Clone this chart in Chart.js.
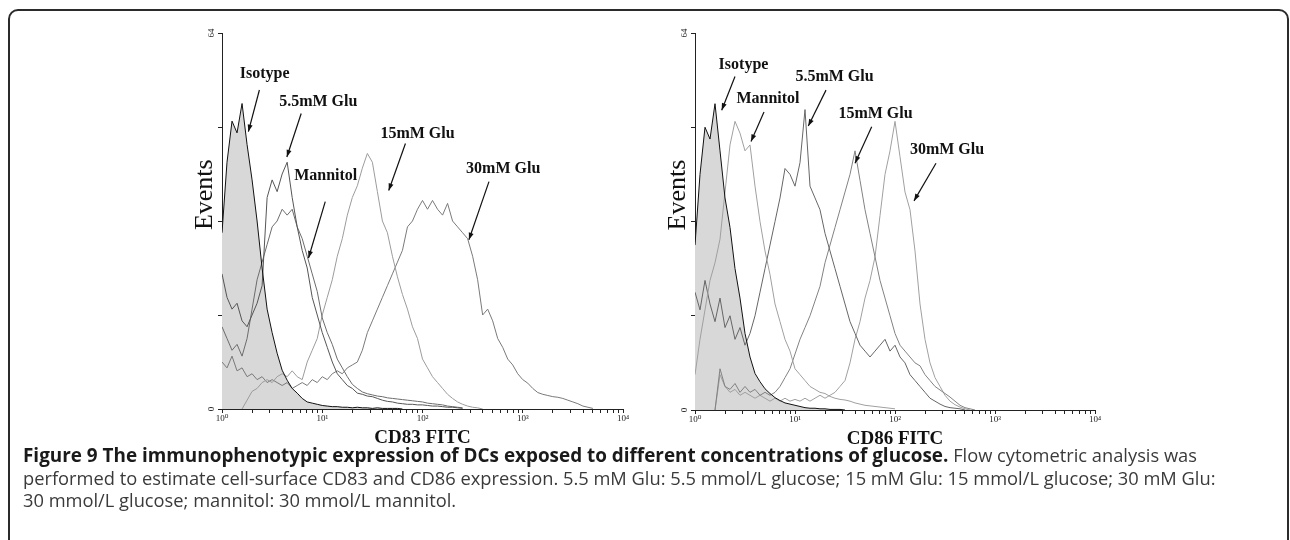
<!DOCTYPE html>
<html lang="en">
<head>
<meta charset="UTF-8">
<title>Figure 9 - CD83 / CD86 FITC histograms</title>
<script src="https://cdn.jsdelivr.net/npm/chart.js"></script>
<style>
  html, body { margin: 0; padding: 0; background: #fff; }
  body { width: 1290px; height: 540px; position: relative; overflow: hidden; }
  .frame { position: absolute; left: 8px; top: 9px; width: 1281px; height: 620px;
           border: 2px solid #2b2b2b; border-radius: 10px; box-sizing: border-box; }
  .panel { position: absolute; top: 0; }
  .caption { position: absolute; left: 23px; top: 444px; white-space: nowrap;
             font-family: "Open Sans", sans-serif; font-size: 18.3px; line-height: 22.5px; color: #3a3a3a; }
  .caption b { color: #1a1a1a; font-size: 18.9px; }
</style>
</head>
<body>
<div class="frame"></div>
<div class="panel" style="left:190px"><canvas id="cd83" width="448" height="455"></canvas></div>
<div class="panel" style="left:663px"><canvas id="cd86" width="447" height="456"></canvas></div>
<div class="caption"><b>Figure 9 The immunophenotypic expression of DCs exposed to different concentrations of glucose.</b> Flow cytometric analysis was<br>performed to estimate cell-surface CD83 and CD86 expression. 5.5 mM Glu: 5.5 mmol/L glucose; 15 mM Glu: 15 mmol/L glucose; 30 mM Glu:<br>30 mmol/L glucose; mannitol: 30 mmol/L mannitol.</div>

<script>
// channel positions (log10 of FITC intensity), one per histogram bin
const logPos = [0.00, 0.05, 0.10, 0.15, 0.20, 0.25, 0.30, 0.35, 0.40, 0.45,
                0.50, 0.55, 0.60, 0.65, 0.70, 0.75, 0.80, 0.85, 0.90, 0.95,
                1.00, 1.05, 1.10, 1.15, 1.20, 1.25, 1.30, 1.35, 1.40, 1.45,
                1.50, 1.55, 1.60, 1.65, 1.70, 1.75, 1.80, 1.85, 1.90, 1.95,
                2.00, 2.05, 2.10, 2.15, 2.20, 2.25, 2.30, 2.35, 2.40, 2.45,
                2.50, 2.55, 2.60, 2.65, 2.70, 2.75, 2.80, 2.85, 2.90, 2.95,
                3.00, 3.05, 3.10, 3.15, 3.20, 3.25, 3.30, 3.35, 3.40, 3.45,
                3.50, 3.55, 3.60, 3.65, 3.70, 3.75];

// CD83 panel (events per bin)
const isotypeCD83 = [30, 42, 49, 47, 52, 45, 39, 32, 24, 17, 13, 9.5, 6.6, 4.9, 3.5, 2.7, 1.8, 1.2, 1.0, 0.8,
                     0.6, 0.5, 0.4, 0.4, 0.3, 0.3, 0.2, 0.3, 0.2, 0.2, 0.1, 0.2, 0.1, 0.1, 0.1, 0.1, 0];
const glu55CD83 = [23, 19, 17, 18, 15, 14, 16, 18, 21, 36, 39, 37, 40, 42, 36, 31, 27, 24, 19, 16,
                   13, 10.5, 8, 6, 5, 4, 3.5, 2.7, 2.5, 2.2, 2.1, 1.8, 1.5, 1.3, 1.2, 1.0, 0.9, 0.8, 0.8, 0.7,
                   0.7, 0.6, 0.5, 0.5, 0.4, 0.3, 0.3, 0.2, 0.1];
const mannitolCD83 = [14, 12, 10, 11, 9, 12, 17, 22, 25, 28, 31, 32, 34, 33, 34, 31, 29, 26, 23, 20,
                      15.5, 13, 11, 8.5, 7, 5.5, 4.2, 3.5, 2.9, 2.6, 2.4, 2.2, 2.1, 1.9, 1.8, 1.7, 1.6, 1.5, 1.4, 1.3,
                      1.2, 1.0, 0.9, 0.8, 0.7, 0.5, 0.4, 0.3, 0.2];
const glu15CD83 = [null, null, null, null, 0, 1.5, 3, 3.5, 4.5, 5, 4.5, 5.5, 6, 5.5, 6.5, 5.5, 5, 8, 10, 12,
                   16, 19, 22, 26, 29, 33, 36, 38, 41, 43.5, 42, 37, 32, 30, 26, 22.5, 19.5, 17, 14, 12,
                   8.5, 7, 5.5, 4.5, 3.5, 2.5, 1.8, 1.2, 0.8, 0.5, 0.3, 0.2, 0];
const glu30CD83 = [8, 7, 9, 6.5, 7, 5.5, 6, 5, 5.5, 4.5, 5, 4.5, 4, 4.5, 3.5, 4, 4.5, 4, 5, 4.5,
                   5.5, 5, 6, 6.5, 6, 7, 7.5, 8, 10, 13, 15, 17, 19, 21, 23, 25, 27, 31, 32, 34,
                   35.5, 34, 35.5, 34, 33, 35, 32, 31, 30, 29, 26, 22, 16, 17, 15, 12, 10.5, 8.5, 7.5, 6,
                   5, 4.4, 3.5, 2.8, 2.5, 2.3, 2.1, 2.0, 1.8, 1.5, 1.2, 0.9, 0.5, 0.3, 0.1];

// CD86 panel (events per bin)
const isotypeCD86 = [28, 40, 48, 46, 52, 44, 36, 31, 24, 19, 13, 9, 6.2, 4.8, 3.6, 2.8, 2.1, 1.6, 1.2, 1.0,
                     0.8, 0.6, 0.4, 0.3, 0.3, 0.2, 0.2, 0.1, 0.1, 0.1, 0];
const mannitolCD86 = [6, 12, 17, 22, 25, 29, 37, 45, 49, 47, 44, 45, 38, 32, 27, 23, 18, 15, 12, 10,
                      7, 6, 5, 4, 3.5, 3, 2.8, 2.3, 2, 1.8, 1.7, 1.5, 1.2, 1.0, 0.8, 0.7, 0.6, 0.5, 0.4, 0.3, 0.2];
const glu55CD86 = [20, 17, 22, 18, 15, 19, 14, 16, 12, 14, 11, 13, 16, 20, 24, 28, 32, 36, 41, 40,
                   38, 42, 51, 38, 36, 34, 30, 27, 24, 21, 18, 15, 13, 11, 10, 9, 10, 11, 12, 10,
                   11, 9, 8, 6, 5, 4, 3, 2, 1.5, 1, 0.6, 0.4, 0.3, 0.2, 0];
const glu15CD86 = [null, null, null, null, 0, 7, 4, 3.5, 4.5, 3, 4, 3, 3.5, 2.5, 3, 2.5, 3, 4, 5.5, 7,
                   9.5, 12, 14, 16, 18.5, 21, 25, 28, 31, 34, 37, 40, 44, 39, 34, 30, 26, 22, 19, 16,
                   13, 11, 10, 9, 8, 7.5, 6, 5, 4, 3.4, 2.8, 2.2, 1.5, 0.8, 0.4, 0.2, 0];
const glu30CD86 = [null, null, null, null, 0, 6, 4, 3, 3.5, 2.5, 3, 2.5, 2, 2.5, 2, 1.5, 2, 1.5, 2, 1.5,
                   1.8, 1.5, 2, 1.5, 2, 2.5, 2, 2.5, 3, 4, 5, 8, 12, 15, 19, 22, 26, 33, 40, 44,
                   49, 43, 37, 34, 27, 18, 12, 8, 5.5, 4, 2.5, 1.5, 0.9, 0.5, 0.2, 0];

// axis ticks
const decadeValues = [1, 10, 100, 1000, 10000];
const decadeLabels = ['10\u2070', '10\u00b9', '10\u00b2', '10\u00b3', '10\u2074'];
const minorMultipliers = [2, 3, 4, 5, 6, 7, 8, 9];
const eventTicks = [0, 16, 32, 48, 64];
const eventTickLabels = ['0', '', '', '', '64'];

// curve labels with arrows: [log10 intensity, events]
const notesCD83 = [
  { text: 'Isotype',   at: [0.425, 57.0], from: [0.373, 54.3], to: [0.263, 47.2] },
  { text: '5.5mM Glu', at: [0.96, 52.2],  from: [0.79, 50.3],  to: [0.647, 42.9] },
  { text: '15mM Glu',  at: [1.95, 46.8],  from: [1.83, 45.2],  to: [1.663, 37.2] },
  { text: 'Mannitol',  at: [1.035, 39.7], from: [1.03, 35.3],  to: [0.863, 25.7] },
  { text: '30mM Glu',  at: [2.805, 40.9], from: [2.663, 38.7], to: [2.463, 28.8] }
];
const notesCD86 = [
  { text: 'Isotype',   at: [0.485, 58.6], from: [0.40, 56.6],  to: [0.267, 50.9] },
  { text: 'Mannitol',  at: [0.73, 52.9],  from: [0.69, 50.6],  to: [0.56, 45.6] },
  { text: '5.5mM Glu', at: [1.395, 56.5], from: [1.31, 54.3],  to: [1.133, 48.2] },
  { text: '15mM Glu',  at: [1.805, 50.3], from: [1.767, 48.1], to: [1.60, 41.9] },
  { text: '30mM Glu',  at: [2.52, 44.1],  from: [2.41, 41.9],  to: [2.19, 35.5] }
];

var SERIF = '"Liberation Serif", "DejaVu Serif", serif';

function toPoints(vals) {
  return vals.map(function (v, i) { return { x: Math.pow(10, logPos[i]), y: v }; });
}

function line(label, vals, color, order) {
  return { label: label, data: toPoints(vals), borderColor: color, borderWidth: 1,
           pointRadius: 0, fill: false, tension: 0, order: order };
}

// draws y tick text, the rotated "Events" title and the arrow labels
var overlay = {
  id: 'overlay',
  afterDraw: function (chart, args, opts) {
    var ctx = chart.ctx, area = chart.chartArea;
    var xs = chart.scales.x, ys = chart.scales.y;
    ctx.save();
    ctx.fillStyle = '#222';
    ctx.font = '9px ' + SERIF;
    ctx.textAlign = 'center';
    ctx.textBaseline = 'middle';
    eventTicks.forEach(function (v, i) {
      if (!eventTickLabels[i]) return;
      ctx.save();
      ctx.translate(area.left - 10, ys.getPixelForValue(v));
      ctx.rotate(-Math.PI / 2);
      ctx.fillText(eventTickLabels[i], 0, 0);
      ctx.restore();
    });

    ctx.save();
    ctx.font = '26px ' + SERIF;
    ctx.fillStyle = '#111';
    ctx.translate(ys.left + 15, area.top + 0.43 * (area.bottom - area.top));
    ctx.rotate(-Math.PI / 2);
    ctx.fillText('Events', 0, 0);
    ctx.restore();

    ctx.font = 'bold 16px ' + SERIF;
    ctx.fillStyle = '#111';
    ctx.strokeStyle = '#111';
    ctx.lineWidth = 1.2;
    opts.notes.forEach(function (n) {
      var px = function (p) { return [xs.getPixelForValue(Math.pow(10, p[0])), ys.getPixelForValue(p[1])]; };
      var t = px(n.at), a = px(n.from), b = px(n.to);
      ctx.fillText(n.text, t[0], t[1]);
      ctx.beginPath();
      ctx.moveTo(a[0], a[1]);
      ctx.lineTo(b[0], b[1]);
      ctx.stroke();
      var ang = Math.atan2(b[1] - a[1], b[0] - a[0]);
      ctx.beginPath();
      ctx.moveTo(b[0], b[1]);
      ctx.lineTo(b[0] - 7 * Math.cos(ang) + 2.5 * Math.sin(ang), b[1] - 7 * Math.sin(ang) - 2.5 * Math.cos(ang));
      ctx.lineTo(b[0] - 7 * Math.cos(ang) - 2.5 * Math.sin(ang), b[1] - 7 * Math.sin(ang) + 2.5 * Math.cos(ang));
      ctx.closePath();
      ctx.fill();
    });
    ctx.restore();
  }
};

function makeChart(id, title, datasets, notes) {
  return new Chart(document.getElementById(id), {
    type: 'line',
    data: { datasets: datasets },
    plugins: [overlay],
    options: {
      responsive: false,
      animation: false,
      layout: { padding: { left: 0, right: 15, top: 33, bottom: 0 } },
      plugins: {
        legend: { display: false },
        tooltip: { enabled: false },
        filler: { drawTime: 'beforeDatasetsDraw' },
        overlay: { notes: notes }
      },
      scales: {
        x: {
          type: 'logarithmic',
          min: 1, max: 10000,
          afterBuildTicks: function (scale) {
            var t = [];
            decadeValues.forEach(function (d, i) {
              t.push({ value: d });
              if (i < decadeValues.length - 1) minorMultipliers.forEach(function (m) { t.push({ value: d * m }); });
            });
            scale.ticks = t;
          },
          afterFit: function (scale) { scale.height = 46; },
          ticks: {
            autoSkip: false, maxRotation: 0, padding: 0,
            color: '#222',
            font: { family: SERIF, size: 9 },
            callback: function (value) {
              var k = decadeValues.indexOf(value);
              return k >= 0 ? decadeLabels[k] : '';
            }
          },
          grid: { drawOnChartArea: false, tickLength: 4, color: '#222' },
          border: { color: '#222', width: 1 },
          title: { display: true, text: title, color: '#111',
                   font: { family: SERIF, size: 19, weight: 'bold' }, padding: { top: 0, bottom: 6 } }
        },
        y: {
          min: 0, max: 64,
          afterBuildTicks: function (scale) {
            scale.ticks = eventTicks.map(function (v) { return { value: v }; });
          },
          afterFit: function (scale) { scale.width = 32; },
          ticks: { callback: function () { return ''; } },
          grid: { drawOnChartArea: false, tickLength: 4, color: '#222' },
          border: { color: '#222', width: 1 }
        }
      }
    }
  });
}

var isoStyle83 = line('Isotype', isotypeCD83, '#111', 0);
isoStyle83.fill = 'origin';
isoStyle83.backgroundColor = '#d8d8d8';
makeChart('cd83', 'CD83 FITC', [
  isoStyle83,
  line('5.5mM Glu', glu55CD83, '#555', 1),
  line('Mannitol', mannitolCD83, '#6c6c6c', 2),
  line('15mM Glu', glu15CD83, '#9c9c9c', 3),
  line('30mM Glu', glu30CD83, '#7a7a7a', 4)
], notesCD83);

var isoStyle86 = line('Isotype', isotypeCD86, '#111', 0);
isoStyle86.fill = 'origin';
isoStyle86.backgroundColor = '#d8d8d8';
makeChart('cd86', 'CD86 FITC', [
  isoStyle86,
  line('Mannitol', mannitolCD86, '#a0a0a0', 1),
  line('5.5mM Glu', glu55CD86, '#666', 2),
  line('15mM Glu', glu15CD86, '#828282', 3),
  line('30mM Glu', glu30CD86, '#a0a0a0', 4)
], notesCD86);
</script>
</body>
</html>
